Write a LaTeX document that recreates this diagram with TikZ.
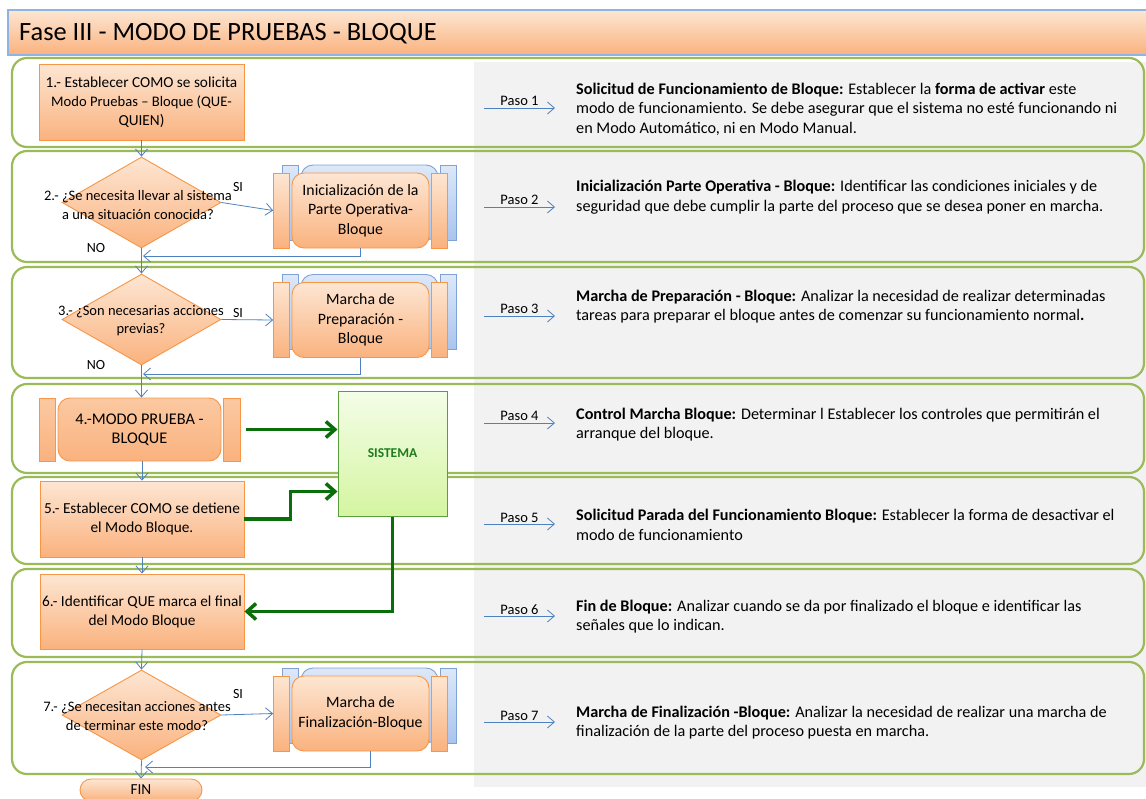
\documentclass[tikz,border=0pt]{standalone}
\usepackage{fontspec}
\setmainfont{Carlito}
\usetikzlibrary{shapes.geometric,arrows.meta,calc}

\definecolor{lanegreen}{HTML}{9BBB59}
\definecolor{orline}{HTML}{F79646}
\definecolor{ortop}{HTML}{FDE6D3}
\definecolor{orbot}{HTML}{FAB27E}
\definecolor{ormid}{HTML}{FBC9A2}
\definecolor{blline}{HTML}{7FA2D6}
\definecolor{bltop}{HTML}{DDE8F8}
\definecolor{blbot}{HTML}{A9C4EE}
\definecolor{flowblue}{HTML}{4F81BD}
\definecolor{darkgreen}{HTML}{0A6E0A}
\definecolor{sysline}{HTML}{5B9E3C}
\definecolor{systop}{HTML}{F4FDE8}
\definecolor{sysbot}{HTML}{D5F5A1}
\definecolor{systext}{HTML}{1E7B1E}
\definecolor{panel}{HTML}{F2F2F2}
\definecolor{titleline}{HTML}{8EB4E3}

\newcommand\bodyfont{\fontsize{15.3}{19}\selectfont}
\newcommand\diafont{\fontsize{14.5}{18.5}\selectfont}
\newcommand\subfont{\fontsize{15.8}{19.5}\selectfont}
\newcommand\descfont{\fontsize{16.2}{19.5}\selectfont}

% predefined-process block with a shifted blue copy behind it
\newcommand\subproc[4]{%
  \node[subcore, blfill] (#1bk) at ($(#2,#3)+(9,-8)$) {};
  \node[subbar, blfill, anchor=east] (#1bkl) at ($(#1bk.west)+(-1.5,0)$) {};
  \node[subbar, blfill, anchor=west] (#1bkr) at ($(#1bk.east)+(1.5,0)$) {};
  \node[subcore, orfill] (#1) at (#2,#3) {\rule{0pt}{5pt}#4};
  \node[subbar, orfill, anchor=east] (#1l) at ($(#1.west)+(-1.5,0)$) {};
  \node[subbar, orfill, anchor=west] (#1r) at ($(#1.east)+(1.5,0)$) {};
}

\begin{document}
\begin{tikzpicture}[x=1pt,y=-1pt,
  orfill/.style={draw=orline, line width=0.9pt, top color=ortop, bottom color=orbot},
  blfill/.style={draw=blline, line width=0.9pt, top color=bltop, bottom color=blbot},
  box/.style={orfill, minimum width=205pt, minimum height=76pt, align=center, inner sep=0pt, font=\bodyfont},
  dia/.style={orfill, diamond, minimum width=159pt, minimum height=91pt, inner sep=0pt},
  diatext/.style={align=center, inner sep=0pt, font=\diafont},
  subcore/.style={orfill, rounded corners=12pt, minimum width=137pt, minimum height=75pt, inner sep=0pt, align=center, font=\subfont},
  subbar/.style={orfill, minimum width=16pt, minimum height=75pt, inner sep=0pt},
  flow/.style={draw=flowblue, line width=0.8pt, -{Straight Barb[length=7pt,width=12pt]}},
  garrow/.style={draw=darkgreen, line width=3.5pt, -{Straight Barb[length=9pt,width=16pt]}},
  lane/.style={draw=lanegreen, line width=2.2pt, rounded corners=15pt},
  lbl/.style={inner sep=0pt, font=\fontsize{14}{16}\selectfont},
  desc/.style={anchor=west, align=left, inner sep=0pt, font=\descfont},
  pasolbl/.style={inner sep=1.5pt, font=\fontsize{14.5}{16}\selectfont}
]
\useasboundingbox (0,0) rectangle (1146,798);
\clip (0,0) rectangle (1146,798);

% description panel
\fill[panel] (474,62) rectangle (1146,787);

% title bar
\draw[draw=titleline, line width=1.2pt, top color=ortop, bottom color=orbot] (8,10) rectangle (1160,55);
\node[anchor=west, inner sep=0pt, font=\fontsize{26.4}{30}\selectfont] (title) at (19,34) {Fase III - MODO DE PRUEBAS - BLOQUE};

% swim lanes
\foreach \t/\b in {58/147,151/262,267/378,384/473,477/564,569/657,662/774}
  \draw[lane] (12,\t) rectangle (1144,\b);

% step 1
\node[box] (b1) at (141.5,102) {1.- Establecer COMO se solicita\\{\fontsize{14.6}{19}\selectfont Modo Pruebas – Bloque (QUE-}\\QUIEN)};

% step 2
\node[dia] (d2) at (141.5,202.5) {};
\node[diatext] (d2t) at (138,205) {2.- ¿Se necesita llevar al sistema\\a una situación conocida?};
\subproc{s2}{360.5}{210.5}{Inicialización de la\\Parte Operativa-\\Bloque}
\node[lbl] (si2) at (238,187) {SI};
\node[lbl] (no2) at (96,248) {NO};

% step 3
\node[dia] (d3) at (141.5,319.5) {};
\node[diatext] (d3t) at (141,320.5) {3.- ¿Son necesarias acciones\\previas?};
\subproc{s3}{360.5}{320}{Marcha de\\Preparación -\\Bloque}
\node[lbl] (si3) at (238,313) {SI};
\node[lbl] (no3) at (96,365) {NO};

% step 4
\node[orfill, top color=ormid, rounded corners=12pt, minimum width=163pt, minimum height=63pt, inner sep=0pt, align=center, font=\fontsize{16.3}{19}\selectfont] (n4) at (139.5,429.5) {4.-MODO PRUEBA -\\BLOQUE};
\node[orfill, top color=ormid, minimum width=16pt, minimum height=63pt, inner sep=0pt, anchor=east] (n4l) at ($(n4.west)+(-2,0)$) {};
\node[orfill, top color=ormid, minimum width=17pt, minimum height=63pt, inner sep=0pt, anchor=west] (n4r) at ($(n4.east)+(1.5,0)$) {};

% system block
\node[draw=sysline, line width=1pt, top color=systop, bottom color=sysbot, minimum width=109pt, minimum height=125pt, inner sep=0pt, text=systext, font=\fontsize{13.5}{15}\selectfont\bfseries] (sis) at (392.5,453.5) {SISTEMA};

% step 5
\node[box, minimum width=204pt] (b5) at (142,519) {5.- Establecer COMO se detiene\\el Modo Bloque.};

% step 6
\node[box, minimum width=204pt, minimum height=75pt] (b6) at (142,611.5) {6.- Identificar QUE marca el final\\del Modo Bloque};

% step 7
\node[dia, minimum height=90pt] (d7) at (141.5,715) {};
\node[diatext] (d7t) at (137,716) {7.- ¿Se necesitan acciones antes\\de terminar este modo?};
\subproc{s7}{360.5}{713.5}{Marcha de\\Finalización-Bloque}
\node[lbl] (si7) at (238,694) {SI};

% end
\node[orfill, rounded corners=11pt, minimum width=122pt, minimum height=22pt, inner sep=0pt, font=\bodyfont] (fin) at (141,790) {FIN};

% main flow
\coordinate (j2) at (143,256);
\coordinate (j3) at (143,374);
\coordinate (j7) at (145,767);
\draw[flow] (b1.south) -- (d2.north);
\draw[flow] (d2.east) -- (s2l.west);
\draw[flow] (s2.south) |- (j2);
\draw[flow] (d2.south) -- (d3.north);
\draw[flow] (d3.east) -- (s3l.west);
\draw[flow] (s3.south) |- (j3);
\draw[flow] (d3.south) -- (d3.south |- n4.north);
\draw[flow] (b5.north |- n4.south) -- (b5.north);
\draw[flow] (b5.south) -- (b6.north);
\draw[flow] (b6.south) -- (d7.north);
\draw[flow] (d7.east) -- (s7l.west);
\draw[flow] ([xshift=9.5pt]s7.south) |- (j7);
\draw[flow] (d7.south) -- (fin.north);

% system connections
\draw[garrow] ([xshift=5pt]n4r.east) -- (n4r.east -| sis.west);
\draw[garrow] (b5.east) -- ++(46,0) |- ([yshift=25pt]sis.south west);
\draw[garrow] (sis.south) |- (b6.east);

% step descriptions
\foreach \n/\y in {1/108,2/207,3/316,4/423,5/524,6/616,7/722}{
  \coordinate (p\n s) at (484,\y);
  \coordinate (p\n e) at (555,\y);
  \draw[flow] (p\n s) -- (p\n e) node[pasolbl, midway, above] (p\n l) {Paso \n};
}
\node[desc] (t1) at (576,109) {\textbf{Solicitud de Funcionamiento de Bloque:} Establecer la \textbf{forma de activar} este\\modo de funcionamiento. Se debe asegurar que el sistema no esté funcionando ni\\en Modo Automático, ni en Modo Manual.};
\node[desc] (t2) at (576,197) {\textbf{Inicialización Parte Operativa - Bloque:} Identificar las condiciones iniciales y de\\seguridad que debe cumplir la parte del proceso que se desea poner en marcha.};
\node[desc] (t3) at (576,306.5) {\textbf{Marcha de Preparación - Bloque:} Analizar la necesidad de realizar determinadas\\tareas para preparar el bloque antes de comenzar su funcionamiento normal\textbf{.}};
\node[desc] (t4) at (576,424.5) {\textbf{Control Marcha Bloque:} Determinar l Establecer los controles que permitirán el\\arranque del bloque.};
\node[desc] (t5) at (576,525) {\textbf{Solicitud Parada del Funcionamiento Bloque:} Establecer la forma de desactivar el\\modo de funcionamiento};
\node[desc] (t6) at (576,616.5) {\textbf{Fin de Bloque:} Analizar cuando se da por finalizado el bloque e identificar las\\señales que lo indican.};
\node[desc] (t7) at (576,722.5) {\textbf{Marcha de Finalización -Bloque:} Analizar la necesidad de realizar una marcha de\\finalización de la parte del proceso puesta en marcha.};
\end{tikzpicture}
\end{document}
